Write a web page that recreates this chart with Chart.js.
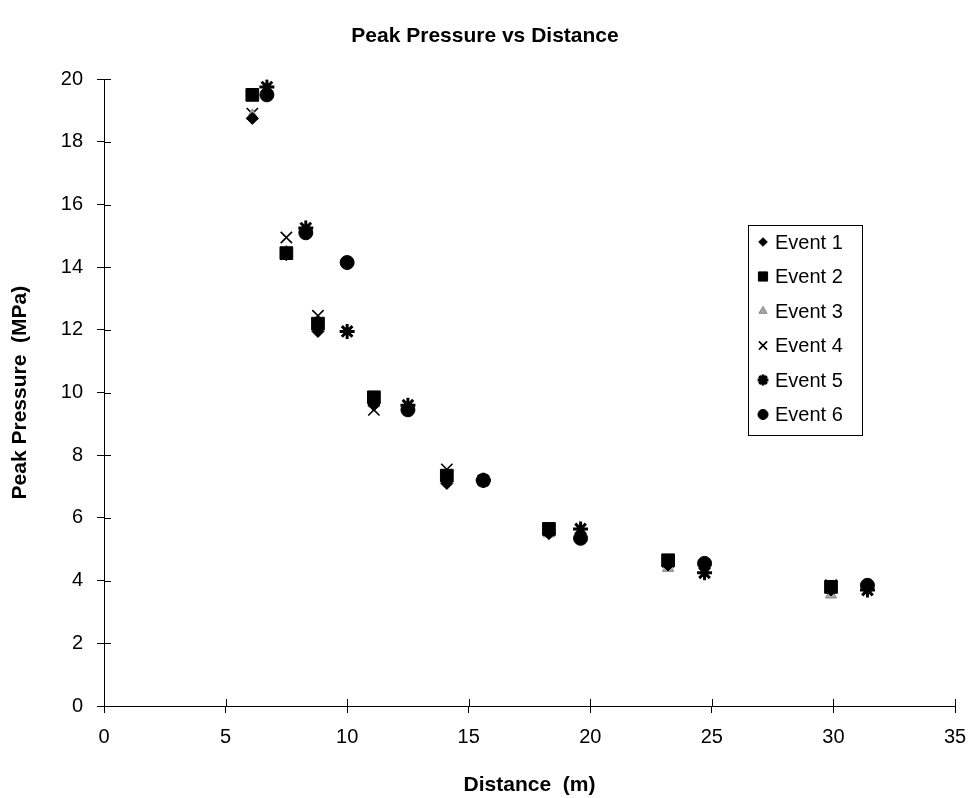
<!DOCTYPE html>
<html>
<head>
<meta charset="utf-8">
<title>Peak Pressure vs Distance</title>
<script src="https://cdn.jsdelivr.net/npm/chart.js@4.4.1/dist/chart.umd.min.js"></script>
<style>
  html, body { margin: 0; padding: 0; background: #fff; }
  #wrap { width: 970px; height: 798px; }
</style>
</head>
<body>
<div id="wrap"><canvas id="chart" width="970" height="798"></canvas></div>
<script>
// distances (m) - events 1-4 were measured at one set of stations, events 5-6 at another
const distA = [6.1, 7.5, 8.8, 11.1, 14.1, 18.3, 23.2, 29.9];
const distB = [6.7, 8.3, 10.0, 12.5, 15.6, 19.6, 24.7, 31.4];

// peak pressure (MPa)
const event1 = [18.75, 14.4, 11.95, 9.6, 7.1, 5.5, 4.5, 3.7];
const event2 = [19.5, 14.45, 12.2, 9.85, 7.35, 5.65, 4.65, 3.8];
const event3 = [18.85, 14.5, 12.2, 9.65, 7.3, 5.5, 4.4, 3.55];
const event4 = [18.9, 14.95, 12.45, 9.45, 7.55, 5.6, 4.6, 3.85];
const event5 = [19.75, 15.25, 11.95, 9.6, 7.2, 5.65, 4.25, 3.7];
const event6 = [19.5, 15.1, 14.15, 9.45, 7.2, 5.35, 4.55, 3.85];

const FONT = "'Liberation Sans', Arial, sans-serif";

function pts(xs, ys) {
    return xs.map((x, i) => ({ x: x, y: ys[i] }));
}

function series(label, xs, ys, style, radius, fill, border, bw) {
    return {
        label: label,
        data: pts(xs, ys),
        pointStyle: style,
        pointRadius: radius,
        pointHoverRadius: radius,
        pointBackgroundColor: fill,
        pointBorderColor: border,
        pointBorderWidth: bw,
        showLine: false
    };
}

// legend box drawn inside the plot, like the original
const boxLegend = {
    id: 'boxLegend',
    afterDraw(chart) {
        const ctx = chart.ctx;
        const x0 = 748, y0 = 225, w = 114, h = 210;
        ctx.save();
        ctx.strokeStyle = '#000';
        ctx.lineWidth = 1;
        ctx.strokeRect(x0 + 0.5, y0 + 0.5, w, h);
        ctx.font = '20px ' + FONT;
        ctx.textBaseline = 'middle';
        chart.data.datasets.forEach((ds, i) => {
            const cy = y0 + 17 + i * 34.5;
            ctx.fillStyle = ds.pointBackgroundColor;
            ctx.strokeStyle = ds.pointBorderColor;
            ctx.lineWidth = ds.pointBorderWidth;
            Chart.helpers.drawPoint(ctx, {
                pointStyle: ds.pointStyle,
                radius: ds.pointRadius * 0.72,
                rotation: 0,
                borderWidth: ds.pointBorderWidth
            }, x0 + 15, cy);
            ctx.fillStyle = '#000';
            ctx.fillText(ds.label, x0 + 27, cy + 1);
        });
        ctx.restore();
    }
};

// tick marks that also reach into the plot area
const innerTicks = {
    id: 'innerTicks',
    afterDraw(chart) {
        const ctx = chart.ctx;
        const xs = chart.scales.x, ys = chart.scales.y;
        const area = chart.chartArea;
        ctx.save();
        ctx.strokeStyle = '#000';
        ctx.lineWidth = 1;
        ctx.beginPath();
        xs.ticks.forEach(t => {
            const px = Math.round(xs.getPixelForValue(t.value)) + 0.5;
            ctx.moveTo(px, area.bottom);
            ctx.lineTo(px, area.bottom - 7);
        });
        ys.ticks.forEach(t => {
            const py = Math.round(ys.getPixelForValue(t.value)) + 0.5;
            ctx.moveTo(area.left, py);
            ctx.lineTo(area.left + 7, py);
        });
        ctx.stroke();
        ctx.restore();
    }
};

const ctx = document.getElementById('chart').getContext('2d');
new Chart(ctx, {
    type: 'scatter',
    data: {
        datasets: [
            series('Event 1', distA, event1, 'rectRot', 6, '#000', '#000', 1),
            series('Event 2', distA, event2, 'rect', 9, '#000', '#000', 1),
            series('Event 3', distA, event3, 'triangle', 6.5, '#a8a8a8', '#8a8a8a', 1),
            series('Event 4', distA, event4, 'crossRot', 8, '#000', '#000', 1.6),
            series('Event 5', distB, event5, 'star', 7.5, '#000', '#000', 3),
            series('Event 6', distB, event6, 'circle', 7, '#000', '#000', 1)
        ]
    },
    options: {
        responsive: false,
        animation: false,
        events: [],
        layout: { padding: { left: 0, right: 0, top: 0, bottom: 0 } },
        plugins: {
            legend: { display: false },
            tooltip: { enabled: false },
            title: {
                display: true,
                text: 'Peak Pressure vs Distance',
                color: '#000',
                font: { family: FONT, size: 21, weight: 'bold' },
                padding: { top: 24, bottom: 30 }
            }
        },
        scales: {
            x: {
                type: 'linear',
                min: 0,
                max: 35,
                afterFit(scale) {
                    scale.height = 92;
                    scale.paddingRight = 15;
                },
                border: { display: true, color: '#000', width: 1 },
                grid: { display: true, drawOnChartArea: false, color: '#000', tickLength: 7 },
                ticks: {
                    stepSize: 5,
                    color: '#000',
                    padding: 12,
                    maxRotation: 0,
                    font: { family: FONT, size: 20 }
                },
                title: {
                    display: true,
                    text: 'Distance  (m)',
                    color: '#000',
                    font: { family: FONT, size: 21, weight: 'bold' },
                    padding: { top: 0, bottom: 0 }
                }
            },
            y: {
                type: 'linear',
                min: 0,
                max: 20,
                afterFit(scale) { scale.width = 104; },
                border: { display: true, color: '#000', width: 1 },
                grid: { display: true, drawOnChartArea: false, color: '#000', tickLength: 7 },
                ticks: {
                    stepSize: 2,
                    color: '#000',
                    padding: 14,
                    font: { family: FONT, size: 20 }
                },
                title: {
                    display: true,
                    text: 'Peak Pressure  (MPa)',
                    color: '#000',
                    font: { family: FONT, size: 21, weight: 'bold' },
                    padding: { top: 8, bottom: 0 }
                }
            }
        }
    },
    plugins: [boxLegend, innerTicks]
});
</script>
</body>
</html>
